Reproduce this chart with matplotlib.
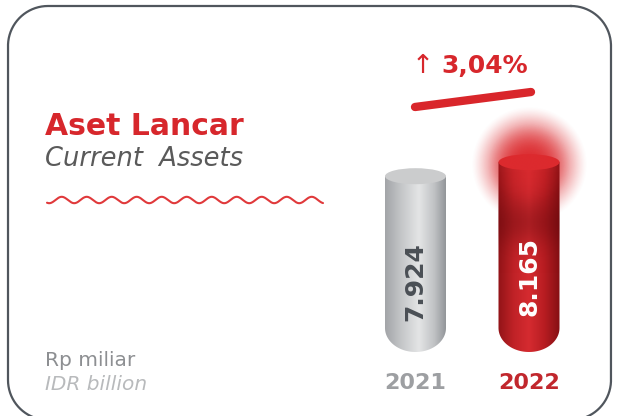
import numpy as np
import matplotlib
matplotlib.use("Agg")
import matplotlib.pyplot as plt
from matplotlib.patches import Ellipse, PathPatch
from matplotlib.path import Path
from matplotlib.colors import LinearSegmentedColormap, to_rgb

# ---- data ----
years = ["2021", "2022"]
values = [7924, 8165]
value_labels = ["7.924", "8.165"]
growth_label = "3,04%"
title = "Aset Lancar"
subtitle = "Current  Assets"
unit_id = "Rp miliar"
unit_en = "IDR billion"

BASE = 4900  # value at the bottom tip of the cylinders

W, H = 627, 416
fig = plt.figure(figsize=(W / 100, H / 100), dpi=100)
fig.patch.set_facecolor("white")

# decoration axes in pixel coordinates
dax = fig.add_axes([0, 0, 1, 1])
dax.set_xlim(0, W)
dax.set_ylim(H, 0)
dax.axis("off")

RED = "#d7272c"


def rounded_rect(x0, y0, x1, y1, r, n=40):
    pts = []
    corners = [(x1 - r, y0 + r, -90, 0), (x1 - r, y1 - r, 0, 90),
               (x0 + r, y1 - r, 90, 180), (x0 + r, y0 + r, 180, 270)]
    for cx, cy, a0, a1 in corners:
        a = np.radians(np.linspace(a0, a1, n))
        pts += list(zip(cx + r * np.cos(a), cy + r * np.sin(a)))
    pts.append(pts[0])
    return np.array(pts)


fr = rounded_rect(8, 6, 611, 420, 40)
dax.plot(fr[:, 0], fr[:, 1], color="#50565d", lw=1.6)

# titles
dax.text(45, 135, title, color=RED, fontsize=21.5, fontweight="bold",
         va="baseline", ha="left")
dax.text(45, 166, subtitle, color="#5a5a5a", fontsize=18.5, fontstyle="italic",
         fontweight="light", va="baseline", ha="left")

# wavy line
xw = np.linspace(47, 323, 600)
yw = 200 - 3.2 * np.cos(2 * np.pi * (xw - 61.7) / 25.0)
dax.plot(xw, yw, color="#e0393b", lw=1.5, solid_capstyle="round")

# units
dax.text(45, 366, unit_id, color="#8d8f92", fontsize=14.5, va="baseline", ha="left")
dax.text(45, 390, unit_en, color="#b8babc", fontsize=14.5, fontstyle="italic",
         fontweight="light", va="baseline", ha="left")

# growth indicator
dax.text(412, 73, "\u2191", color=RED, fontsize=19, va="baseline", ha="left")
dax.text(441, 73, growth_label, color=RED, fontsize=18, fontweight="bold",
         va="baseline", ha="left")
dax.plot([415, 531], [107, 92], color="#d9262b", lw=6, solid_capstyle="round")

# ---- bar axes ----
ax_left_px, ax_w_px = 358.75, 227.0
ax_bottom_px, ax_h_px = 64.0, 252.0
bax = fig.add_axes([ax_left_px / W, ax_bottom_px / H, ax_w_px / W, ax_h_px / H])
bax.patch.set_alpha(0)
bax.axis("off")
units_per_px = 17.2
TOP = BASE + ax_h_px * units_per_px
bax.set_xlim(0, 2)
bax.set_ylim(BASE, TOP)
px_x = 2.0 / ax_w_px
px_y = (TOP - BASE) / ax_h_px

gray_stops = [(0, "#a3a5a8"), (0.25, "#c3c5c7"), (0.55, "#e4e5e6"), (0.8, "#c0c2c4"), (1, "#909397")]
red_stops = [(0, "#921418"), (0.25, "#c02227"), (0.5, "#d52b30"), (0.75, "#b81d22"), (1, "#861014")]
stops = [gray_stops, red_stops]
cap_colors = ["#cbcccd", "#dd2a2e"]
label_colors = ["#4a4f55", "white"]
year_colors = ["#9d9fa2", "#c1272d"]

hw = 30.5 * px_x
eh = 8.0 * px_y
bh = 24.0 * px_y
NCOL = 120


def gradient_rgba(st, nrows=4):
    cm = LinearSegmentedColormap.from_list("c", st)
    u = np.concatenate([np.zeros(6), np.linspace(0, 1, NCOL), np.ones(6)])
    row = cm(u)
    return np.repeat(row[None, :, :], nrows, axis=0)


def glow(xc, yc, R, amax, power, z):
    gx = np.linspace(-1, 1, 220)
    GX, GY = np.meshgrid(gx, gx)
    rr2 = GX ** 2 + GY ** 2
    alpha = np.clip(1 - rr2, 0, 1) ** power * amax
    rgba = np.zeros((220, 220, 4))
    rgba[..., :3] = to_rgb("#dc2a2e")
    rgba[..., 3] = alpha
    bax.imshow(rgba, extent=[xc - R * px_x, xc + R * px_x, yc - R * px_y, yc + R * px_y],
               aspect="auto", zorder=z, interpolation="bilinear", clip_on=False)


for i, val in enumerate(values):
    xc = 0.5 + i
    if i == 1:
        glow(xc, val - 3 * px_y, 58, 1.0, 1.5, 1)
    # body path
    t = np.linspace(np.pi, 2 * np.pi, 60)
    verts = [(xc - hw, val), (xc - hw, BASE + bh)]
    verts += list(zip(xc + hw * np.cos(t), BASE + bh + bh * np.sin(t)))
    verts += [(xc + hw, BASE + bh), (xc + hw, val), (xc - hw, val)]
    codes = [Path.MOVETO] + [Path.LINETO] * (len(verts) - 2) + [Path.CLOSEPOLY]
    body = PathPatch(Path(verts, codes), facecolor="none", edgecolor="none", zorder=2)
    bax.add_patch(body)
    pad = hw * 2 * 6 / NCOL
    ext = [xc - hw - pad, xc + hw + pad, BASE - 2 * px_y, val + eh]
    im = bax.imshow(gradient_rgba(stops[i]), extent=ext,
                    aspect="auto", zorder=2, interpolation="bilinear")
    im.set_clip_path(body)
    if i == 1:
        # darker band below the glow
        vb = np.zeros((200, 8, 4))
        vb[..., :3] = to_rgb("#5a060a")
        yy = np.linspace(1, 0, 200)  # top to bottom of extent
        vb[:, :, 3] = (0.35 * np.exp(-((yy - 0.66) / 0.12) ** 2))[:, None]
        im2 = bax.imshow(vb, extent=ext, aspect="auto", zorder=2.5,
                         interpolation="bilinear")
        im2.set_clip_path(body)
    cap = Ellipse((xc, val), 2 * hw, 2 * eh, facecolor=cap_colors[i],
                  edgecolor="none", zorder=3)
    bax.add_patch(cap)
    if i == 1:
        glow(xc, val - 3 * px_y, 42, 0.4, 1.5, 3.5)
    # value label
    ly = BASE + 0.4 * (val - BASE)
    bax.text(xc, ly, value_labels[i], rotation=90, ha="center", va="center",
             color=label_colors[i], fontsize=18, fontweight="bold", zorder=4)
    # year label
    bax.text(xc, BASE - 37 * px_y, years[i], ha="center", va="baseline",
             color=year_colors[i], fontsize=16, fontweight="bold", zorder=4,
             clip_on=False)

fig.savefig("out.png", dpi=100, facecolor="white")
